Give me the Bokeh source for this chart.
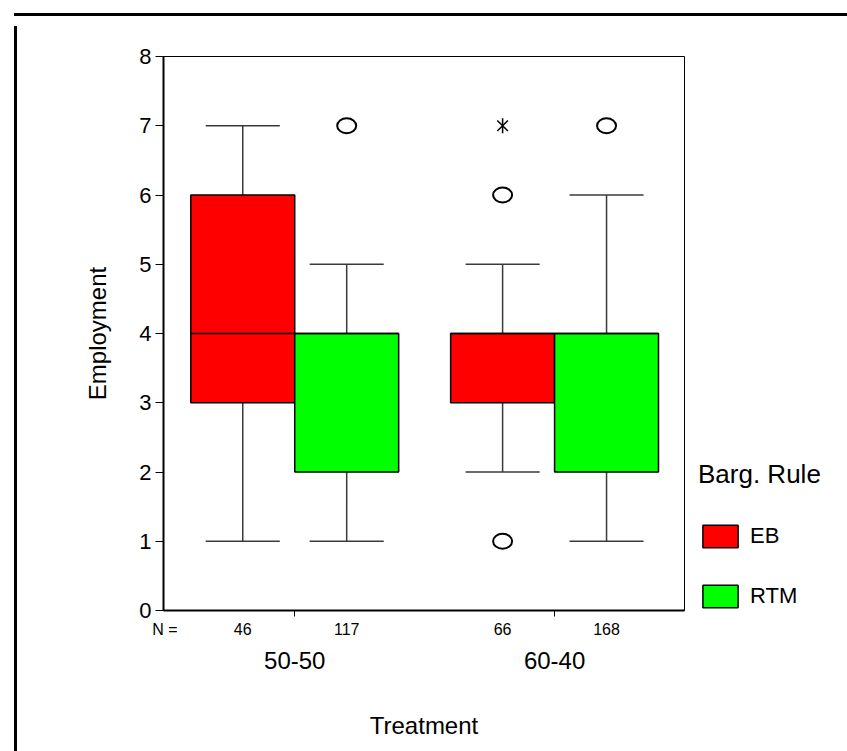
import math
from bokeh.plotting import figure
from bokeh.layouts import column, row
from bokeh.models import ColumnDataSource, Range1d, LinearAxis, FixedTicker, Legend, LegendItem, Div
from bokeh.embed import file_html
from bokeh.resources import INLINE

# ---- data ----
treatments = ["50-50", "60-40"]
rules = ["EB", "RTM"]
rule_colors = ["#FF0000", "#00FF00"]
box_treatment = ["50-50", "50-50", "60-40", "60-40"]
box_rule = ["EB", "RTM", "EB", "RTM"]
n_counts = [46, 117, 66, 168]
q1 = [3, 2, 3, 2]
medians = [4, 4, 4, 4]
q3 = [6, 4, 4, 4]
whisker_low = [1, 1, 2, 1]
whisker_high = [7, 5, 5, 6]
outlier_treatment = ["50-50", "60-40", "60-40", "60-40"]
outlier_rule = ["RTM", "EB", "EB", "RTM"]
outlier_value = [7, 6, 1, 7]
extreme_treatment = ["60-40"]
extreme_rule = ["EB"]
extreme_value = [7]
y_ticks = [0, 1, 2, 3, 4, 5, 6, 7, 8]

FONT = "Liberation Sans"
BOX_W = 0.4
CAP_W = 0.285
group_pos = {t: i + 1 for i, t in enumerate(treatments)}
rule_off = {"EB": -BOX_W / 2, "RTM": BOX_W / 2}


def xpos(t, r):
    return group_pos[t] + rule_off[r]


p = figure(frame_width=521, frame_height=554, output_backend="svg", toolbar_location=None,
           x_range=Range1d(0.495, 2.5), y_range=Range1d(0, 8),
           x_axis_location=None, min_border_left=141, min_border_top=35,
           min_border_right=160, min_border_bottom=145)
p.grid.visible = False
p.outline_line_color = "black"
p.outline_line_width = 1
p.background_fill_color = "white"
p.border_fill_color = "white"

# y axis
ya = p.yaxis[0]
ya.ticker = FixedTicker(ticks=y_ticks, minor_ticks=[])
ya.axis_line_width = 2
ya.axis_line_color = "black"
ya.major_tick_out = 8
ya.major_tick_in = 0
ya.major_tick_line_width = 1
ya.major_label_standoff = 4
ya.major_label_text_font = FONT
ya.major_label_text_font_size = "22px"
ya.major_label_text_color = "black"
ya.axis_label = "Employment"
ya.axis_label_text_font = FONT
ya.axis_label_text_font_size = "24px"
ya.axis_label_text_font_style = "normal"
ya.axis_label_text_color = "black"
ya.axis_label_standoff = 25

# x axis 1: N counts
box_x = [xpos(t, r) for t, r in zip(box_treatment, box_rule)]
n_ticks = [0.5] + box_x
n_over = {0.5: "N ="}
for bx, n in zip(box_x, n_counts):
    n_over[bx] = str(n)
xa1 = LinearAxis(ticker=FixedTicker(ticks=n_ticks, minor_ticks=[group_pos[t] for t in treatments]),
                 major_label_overrides=n_over)
xa1.axis_line_width = 2
xa1.axis_line_color = "black"
xa1.major_tick_out = 0
xa1.major_tick_in = 0
xa1.major_tick_line_color = None
xa1.minor_tick_out = 6
xa1.minor_tick_in = 0
xa1.minor_tick_line_color = "black"
xa1.major_label_standoff = 4
xa1.major_label_text_font = FONT
xa1.major_label_text_font_size = "16px"
xa1.major_label_text_color = "black"
p.add_layout(xa1, "below")

# x axis 2: treatment
xa2 = LinearAxis(ticker=FixedTicker(ticks=[group_pos[t] for t in treatments], minor_ticks=[]),
                 major_label_overrides={group_pos[t]: t for t in treatments})
xa2.axis_line_color = None
xa2.major_tick_line_color = None
xa2.minor_tick_line_color = None
xa2.major_tick_out = 0
xa2.major_label_standoff = 11
xa2.major_label_text_font = FONT
xa2.major_label_text_font_size = "24px"
xa2.major_label_text_color = "black"
xa2.axis_label = "Treatment"
xa2.axis_label_text_font = FONT
xa2.axis_label_text_font_size = "24px"
xa2.axis_label_text_font_style = "normal"
xa2.axis_label_text_color = "black"
xa2.axis_label_standoff = 40
p.add_layout(xa2, "below")

# whiskers
wsrc = ColumnDataSource(dict(
    x=box_x, q1=q1, q3=q3, lo=whisker_low, hi=whisker_high,
    cl=[x - CAP_W / 2 for x in box_x], cr=[x + CAP_W / 2 for x in box_x]))
wcol = "#3a3a3a"
p.segment(x0="x", y0="q1", x1="x", y1="lo", source=wsrc, line_color=wcol, line_width=1.5)
p.segment(x0="x", y0="q3", x1="x", y1="hi", source=wsrc, line_color=wcol, line_width=1.5)
p.segment(x0="cl", y0="lo", x1="cr", y1="lo", source=wsrc, line_color=wcol, line_width=1.5)
p.segment(x0="cl", y0="hi", x1="cr", y1="hi", source=wsrc, line_color=wcol, line_width=1.5)

# boxes
box_renderers = {}
for r, c in zip(rules, rule_colors):
    idx = [i for i, br in enumerate(box_rule) if br == r]
    src = ColumnDataSource(dict(
        left=[box_x[i] - BOX_W / 2 for i in idx],
        right=[box_x[i] + BOX_W / 2 for i in idx],
        bottom=[q1[i] for i in idx],
        top=[q3[i] for i in idx]))
    box_renderers[r] = p.quad(left="left", right="right", bottom="bottom", top="top", source=src,
                              fill_color=c, line_color="black", line_width=1.5)

# medians
msrc = ColumnDataSource(dict(x0=[x - BOX_W / 2 for x in box_x], x1=[x + BOX_W / 2 for x in box_x], y=medians))
p.segment(x0="x0", y0="y", x1="x1", y1="y", source=msrc, line_color="black", line_width=1.5)

# outliers
osrc = ColumnDataSource(dict(x=[xpos(t, r) for t, r in zip(outlier_treatment, outlier_rule)], y=outlier_value))
p.ellipse(x="x", y="y", width=19, height=15, width_units="screen", height_units="screen",
          source=osrc, fill_color="white", line_color="black", line_width=2)

# extremes
esrc = ColumnDataSource(dict(x=[xpos(t, r) for t, r in zip(extreme_treatment, extreme_rule)], y=extreme_value))
p.scatter(x="x", y="y", source=esrc, marker="x", size=15, line_color="black", line_width=1.5)
p.scatter(x="x", y="y", source=esrc, marker="dash", angle=math.pi / 2, size=15, line_color="black", line_width=1.5)

# legend
legend = Legend(items=[LegendItem(label=r, renderers=[box_renderers[r]]) for r in rules],
                location=(14, 0), title="Barg. Rule")
legend.title_text_font = FONT
legend.title_text_font_size = "26px"
legend.title_text_font_style = "normal"
legend.title_text_color = "black"
legend.title_standoff = 32
legend.label_text_font = FONT
legend.label_text_font_size = "22px"
legend.label_text_color = "black"
legend.glyph_width = 44
legend.glyph_height = 28
legend.label_standoff = 8
legend.spacing = 32
legend.padding = 0
legend.margin = 0
legend.border_line_color = None
legend.background_fill_alpha = 0
p.add_layout(legend, "right")

# outer chart frame: black bars on the top and left edges
top_bar = Div(text="", width=835, height=3, styles={"background-color": "black"})
left_bar = Div(text="", width=3, height=737, styles={"background-color": "black"})
root = column(top_bar, row(left_bar, p, spacing=0), spacing=0)
root.margin = (8, 0, 0, 9)

open("out.html", "w").write(file_html(root, INLINE))
